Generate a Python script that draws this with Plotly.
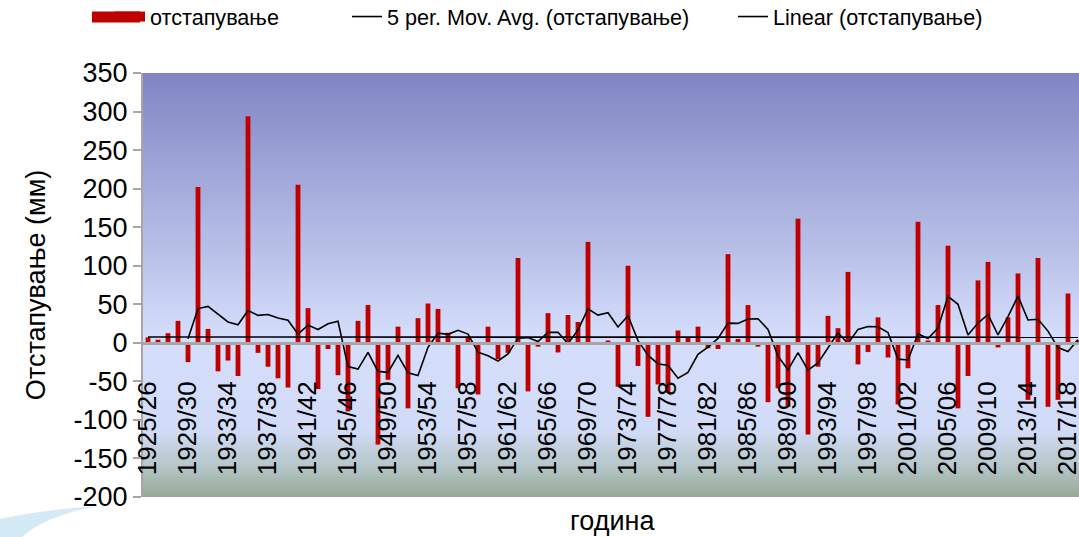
import numpy as np
import pandas as pd
import plotly.graph_objects as go

# Seasonal precipitation deviation (mm), 1925/26 - 2018/19
first_year = 1925
deviation = [
    7, 4, 12.5, 28.5, -25, 202, 18, -37, -23, -43,
    294, -13, -31, -46, -58, 205, 45, -60, -8, -42,
    -89, 28.5, 49, -132, -48, 21, -85, 32, 51, 44,
    13, -59, 8, -67, 21, -21, -13, 110, -63, -5,
    38.5, -12.5, 36, 27, 131, -1.5, 3, -57, 100, -30,
    -96, -54, -65, 16, 7, 21, -7, -8, 115, 5,
    49, -5, -77, -59, -83, 161, -119, -31, 35, 19,
    92, -28, -12, 33, -19, -80, -33, 157, 3, 49,
    126, -85, -43, 81, 105, -6, 33, 90, -74, 110,
    -83, -74, 64, 3,
]
seasons = [f"{first_year + i}/{(first_year + i + 1) % 100:02d}" for i in range(len(deviation))]
x_tick_labels = seasons[::4]
y_tick_values = [-200, -150, -100, -50, 0, 50, 100, 150, 200, 250, 300, 350]
y_tick_labels = ["-200", "-150", "-100", "-50", "0", "50", "100", "150", "200", "250", "300", "350"]

series_name = "отстапување"
ma_name = "5 per. Mov. Avg. (отстапување)"
trend_name = "Linear (отстапување)"
x_title = "година"
y_title = "Отстапување (мм)"

BAR_RED = "#C00000"
AXIS_GREY = "#A6A6A6"
FONT = "Liberation Sans, Arial, sans-serif"

# Derived series: 5-period trailing moving average and least-squares trend
dev = pd.Series(deviation, dtype=float)
moving_avg = dev.rolling(5).mean()
idx = np.arange(len(deviation))
slope, intercept = np.polyfit(idx, dev.values, 1)
trend = slope * idx + intercept

fig = go.Figure()

fig.add_trace(go.Bar(
    x=seasons, y=deviation, name=series_name,
    marker=dict(color=BAR_RED, line=dict(width=0)),
    showlegend=False, legendgroup="dev",
))
# legend swatch for the bar series
fig.add_trace(go.Scatter(
    x=[None], y=[None], mode="lines", name=series_name,
    line=dict(color=BAR_RED, width=11), legend="legend", legendgroup="dev",
))
fig.add_trace(go.Scatter(
    x=seasons, y=moving_avg.where(moving_avg.notna(), None).tolist(),
    mode="lines", name=ma_name, line=dict(color="black", width=1.6),
    legend="legend2", connectgaps=False,
))
fig.add_trace(go.Scatter(
    x=seasons, y=trend.tolist(), mode="lines", name=trend_name,
    line=dict(color="black", width=1.6), legend="legend3",
))

# page geometry (px)
W, H, L, T, PW, PH = 1079, 537, 143, 73, 936, 424

def pxx(xp):
    return (xp - L) / PW

def pxy(yp):
    return (T + PH - yp) / PH

# plot-area background: vertical gradient built from thin bands
stops = [
    (0.00, (127, 133, 195)),
    (0.62, (212, 221, 251)),
    (0.84, (210, 220, 248)),
    (0.92, (184, 200, 205)),
    (1.00, (150, 170, 150)),
]
n_bands = 140
shapes = []
for b in range(n_bands):
    t = (b + 0.5) / n_bands  # 0 at top, 1 at bottom
    for (p0, c0), (p1, c1) in zip(stops[:-1], stops[1:]):
        if p0 <= t <= p1:
            f = (t - p0) / (p1 - p0)
            col = tuple(int(round(a + (bb - a) * f)) for a, bb in zip(c0, c1))
            break
    y_top = 1 - b / n_bands
    y_bot = 1 - (b + 1) / n_bands - 0.002
    shapes.append(dict(
        type="rect", xref="paper", yref="paper", x0=0, x1=1,
        y0=max(y_bot, 0), y1=y_top, line=dict(width=0),
        fillcolor=f"rgb{col}", layer="below",
    ))

# light swoosh ornament in the lower-left corner
def pt(xp, yp):
    return f"{pxx(xp):.4f},{pxy(yp):.4f}"
swoosh = (f"M{pt(0, 537)} L{pt(0, 519)} Q{pt(40, 510)} {pt(98, 506)} "
          f"Q{pt(45, 516)} {pt(22, 537)} Z")
shapes.append(dict(type="path", xref="paper", yref="paper", path=swoosh,
                   fillcolor="rgba(205,232,246,0.85)", line=dict(width=0),
                   layer="below"))

# wide red key block for the bar series (extends the legend swatch)
shapes.append(dict(type="rect", xref="paper", yref="paper",
                   x0=pxx(92), x1=pxx(140), y0=pxy(22.5), y1=pxy(11.5),
                   fillcolor=BAR_RED, line=dict(width=0)))

zero_pos = (0 - (-200)) / (350 - (-200))

legend_common = dict(orientation="h", yanchor="middle", y=pxy(17), xanchor="left",
                     font=dict(family=FONT, size=21.6, color="black"),
                     bgcolor="rgba(0,0,0,0)", borderwidth=0, itemwidth=30)

fig.update_layout(
    width=W, height=H,
    margin=dict(l=L, r=W - L - PW, t=T, b=H - T - PH, pad=0, autoexpand=False),
    paper_bgcolor="white", plot_bgcolor="rgba(0,0,0,0)",
    font=dict(family=FONT, color="black"),
    bargap=0.52,
    shapes=shapes,
    legend=dict(legend_common, x=pxx(110)),
    legend2=dict(legend_common, x=pxx(347)),
    legend3=dict(legend_common, x=pxx(733)),
    xaxis=dict(
        type="category", range=[-0.5, 93.1], anchor="free", position=zero_pos,
        showline=True, linecolor=AXIS_GREY, linewidth=3,
        ticks="", tickangle=-90, tickmode="array",
        tickvals=x_tick_labels, ticktext=x_tick_labels,
        tickfont=dict(family=FONT, size=26, color="black"),
        ticklabelstandoff=26,
        showgrid=False, zeroline=False, automargin=False,
    ),
    yaxis=dict(
        range=[-200, 350], tickmode="array",
        tickvals=y_tick_values, ticktext=y_tick_labels,
        showline=True, linecolor=AXIS_GREY, linewidth=2,
        ticks="outside", ticklen=8, tickwidth=2, tickcolor=AXIS_GREY,
        tickfont=dict(family=FONT, size=27, color="black"),
        showgrid=False, zeroline=False, automargin=False,
        title=dict(text=y_title, font=dict(family=FONT, size=27, color="black"),
                   standoff=20),
    ),
    annotations=[dict(
        text=x_title, xref="paper", yref="paper",
        x=pxx(612), y=pxy(521),
        xanchor="center", yanchor="middle", showarrow=False,
        font=dict(family=FONT, size=27, color="black"),
    )],
)

fig.write_html("out.html")
